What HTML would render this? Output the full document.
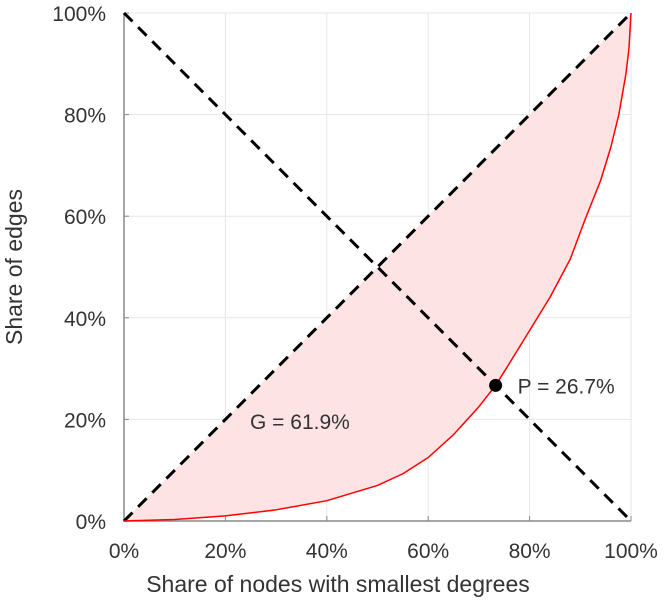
<!DOCTYPE html>
<html><head><meta charset="utf-8"><style>
body{margin:0;background:#fff;font-family:"Liberation Sans",sans-serif}
svg text{fill:#333;font-family:"Liberation Sans",sans-serif}
</style></head><body>
<svg id="chart" width="668" height="600"></svg>
<script>
const xTicks=[0,20,40,60,80,100];
const yTicks=[0,20,40,60,80,100];
const curveX=[0,10,20,30,40,50,55,60,65,70,73.3,76,80,84,88,91,94,96,97.6,99,99.6,100];
const curveY=[0,0.3,1,2.2,4,7,9.3,12.5,17,22.5,26.7,31,37.5,44,51.5,59.5,67,73.5,80,88,93,100];
const pointP=[73.3,26.7];
const labelG="G = 61.9%";
const labelP="P = 26.7%";
const X0=124,X1=631,Y0=521,Y1=13;
const sx=v=>X0+(X1-X0)*v/100, sy=v=>Y0-(Y0-Y1)*v/100;
const svg=document.getElementById('chart');const NS='http://www.w3.org/2000/svg';
function mk(t,a,p){const e=document.createElementNS(NS,t);for(const k in a)e.setAttribute(k,a[k]);(p||svg).appendChild(e);return e;}
xTicks.forEach(t=>{if(t>0){const l=mk('line',{x1:sx(t),x2:sx(t),y1:Y0,y2:Y1,stroke:'#e6e6e6'});

}});
yTicks.forEach(t=>{if(t>0){const l=mk('line',{x1:X0,x2:X1,y1:sy(t),y2:sy(t),stroke:'#e6e6e6'});

}});
let d='M'+sx(0)+','+sy(0)+' L'+sx(100)+','+sy(100);
for(let i=curveX.length-1;i>=0;i--)d+=' L'+sx(curveX[i])+','+sy(curveY[i]);
const area=mk('path',{d:d+'Z',fill:'#fde3e3',stroke:'none'});


const ax=mk('path',{d:`M${X0},${Y1} V${Y0} H${X1}`,fill:'none',stroke:'#888','stroke-width':1.5});


xTicks.forEach(t=>{mk('line',{x1:sx(t),x2:sx(t),y1:Y0,y2:Y0-5,stroke:'#888'});
const tx=mk('text',{x:sx(t),y:558,'text-anchor':'middle','font-size':21});tx.textContent=t+'%';

});
yTicks.forEach(t=>{mk('line',{x1:X0,x2:X0+5,y1:sy(t),y2:sy(t),stroke:'#888'});
const tx=mk('text',{x:106,y:sy(t)+8,'text-anchor':'end','font-size':21});tx.textContent=t+'%';

});
const d1=mk('line',{x1:sx(0),y1:sy(0),x2:sx(100),y2:sy(100),stroke:'#000','stroke-width':3,'stroke-dasharray':'12,8'});


const d2=mk('line',{x1:sx(0),y1:sy(100),x2:sx(100),y2:sy(0),stroke:'#000','stroke-width':3,'stroke-dasharray':'12,8'});


const cp=mk('polyline',{points:curveX.map((x,i)=>sx(x)+','+sy(curveY[i])).join(' '),fill:'none',stroke:'#f00','stroke-width':1.5,'stroke-linejoin':'round'});


const pt=mk('circle',{cx:sx(pointP[0]),cy:sy(pointP[1]),r:6.5,fill:'#000'});


const gp=mk('text',{x:sx(pointP[0])+22,y:sy(pointP[1])+8,'font-size':21});gp.textContent=labelP;


const gl=mk('text',{x:250,y:429,'font-size':21});gl.textContent=labelG;


const xt=mk('text',{x:338,y:592,'text-anchor':'middle','font-size':23});xt.textContent='Share of nodes with smallest degrees';


const yt=mk('text',{x:0,y:0,'text-anchor':'middle','font-size':23,transform:'translate(22,267) rotate(-90)'});yt.textContent='Share of edges';


</script>
</body></html>
